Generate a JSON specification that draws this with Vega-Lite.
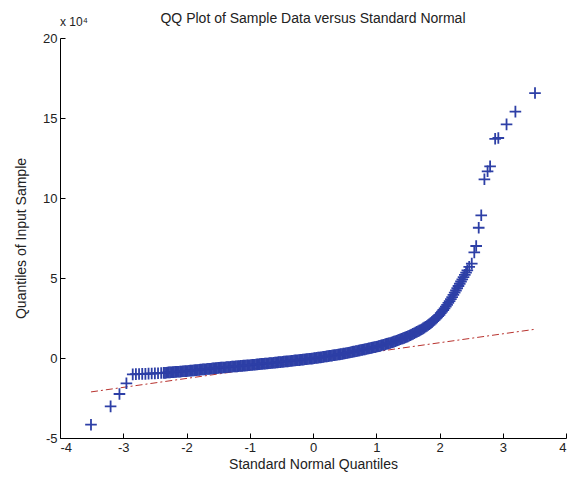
{
  "$schema": "https://vega.github.io/schema/vega-lite/v6.json",
  "width": 506,
  "height": 400,
  "autosize": "none",
  "padding": {"left": 60, "top": 38, "right": 2, "bottom": 43},
  "title": {"text": "QQ Plot of Sample Data versus Standard Normal", "font": "Liberation Sans", "fontSize": 14, "fontWeight": "normal", "color": "#222", "offset": -10, "anchor": "middle"},
  "config": {
    "view": {"stroke": null},
    "axis": {"grid": false, "domainColor": "#000", "tickColor": "#000", "labelFont": "Liberation Sans", "titleFont": "Liberation Sans", "labelFontSize": 13, "titleFontSize": 14, "titleFontWeight": "normal", "labelColor": "#222", "titleColor": "#222", "tickSize": -5, "labelExpr": "'' + datum.value"}
  },
  "datasets": {
    "pts": [
      {"q": -3.51, "v": -4.17}, {"q": -3.20, "v": -3.02}, {"q": -3.06, "v": -2.25}, {"q": -2.95, "v": -1.58},
      {"q": -2.85, "v": -1.02}, {"q": -2.80, "v": -1.01}, {"q": -2.75, "v": -1.00}, {"q": -2.70, "v": -0.99},
      {"q": -2.65, "v": -0.99}, {"q": -2.60, "v": -0.98}, {"q": -2.55, "v": -0.97}, {"q": -2.50, "v": -0.96},
      {"q": -2.45, "v": -0.95}, {"q": -2.40, "v": -0.94}, {"q": -2.36, "v": -0.93},
      {"q": -2.34, "v": -0.93}, {"q": -2.32, "v": -0.92}, {"q": -2.30, "v": -0.91}, {"q": -2.28, "v": -0.90},
      {"q": -2.26, "v": -0.90}, {"q": -2.24, "v": -0.89}, {"q": -2.22, "v": -0.88}, {"q": -2.20, "v": -0.88},
      {"q": -2.18, "v": -0.87}, {"q": -2.16, "v": -0.87}, {"q": -2.14, "v": -0.86}, {"q": -2.12, "v": -0.86},
      {"q": -2.10, "v": -0.85}, {"q": -2.08, "v": -0.84}, {"q": -2.06, "v": -0.83}, {"q": -2.04, "v": -0.83},
      {"q": -2.02, "v": -0.82}, {"q": -2.00, "v": -0.82}, {"q": -1.98, "v": -0.81}, {"q": -1.96, "v": -0.80},
      {"q": -1.94, "v": -0.79}, {"q": -1.92, "v": -0.79}, {"q": -1.90, "v": -0.78}, {"q": -1.88, "v": -0.77},
      {"q": -1.86, "v": -0.76}, {"q": -1.84, "v": -0.76}, {"q": -1.82, "v": -0.75}, {"q": -1.80, "v": -0.74},
      {"q": -1.78, "v": -0.73}, {"q": -1.76, "v": -0.72}, {"q": -1.74, "v": -0.71}, {"q": -1.72, "v": -0.71},
      {"q": -1.70, "v": -0.70}, {"q": -1.68, "v": -0.69}, {"q": -1.66, "v": -0.68}, {"q": -1.64, "v": -0.68},
      {"q": -1.62, "v": -0.67}, {"q": -1.60, "v": -0.66}, {"q": -1.58, "v": -0.65}, {"q": -1.56, "v": -0.64},
      {"q": -1.54, "v": -0.63}, {"q": -1.52, "v": -0.63}, {"q": -1.50, "v": -0.62}, {"q": -1.48, "v": -0.61},
      {"q": -1.46, "v": -0.60}, {"q": -1.44, "v": -0.60}, {"q": -1.42, "v": -0.59}, {"q": -1.40, "v": -0.59},
      {"q": -1.38, "v": -0.58}, {"q": -1.36, "v": -0.57}, {"q": -1.34, "v": -0.56}, {"q": -1.32, "v": -0.56},
      {"q": -1.30, "v": -0.55}, {"q": -1.28, "v": -0.54}, {"q": -1.26, "v": -0.53}, {"q": -1.24, "v": -0.53},
      {"q": -1.22, "v": -0.52}, {"q": -1.20, "v": -0.52}, {"q": -1.18, "v": -0.51}, {"q": -1.16, "v": -0.50},
      {"q": -1.14, "v": -0.49}, {"q": -1.12, "v": -0.49}, {"q": -1.10, "v": -0.48}, {"q": -1.08, "v": -0.48},
      {"q": -1.06, "v": -0.47}, {"q": -1.04, "v": -0.46}, {"q": -1.02, "v": -0.45}, {"q": -1.00, "v": -0.45},
      {"q": -0.98, "v": -0.44}, {"q": -0.96, "v": -0.43}, {"q": -0.94, "v": -0.42}, {"q": -0.92, "v": -0.42},
      {"q": -0.90, "v": -0.41}, {"q": -0.88, "v": -0.40}, {"q": -0.86, "v": -0.39}, {"q": -0.84, "v": -0.38},
      {"q": -0.82, "v": -0.37}, {"q": -0.80, "v": -0.37}, {"q": -0.78, "v": -0.36}, {"q": -0.76, "v": -0.35},
      {"q": -0.74, "v": -0.34}, {"q": -0.72, "v": -0.34}, {"q": -0.70, "v": -0.33}, {"q": -0.68, "v": -0.32},
      {"q": -0.66, "v": -0.31}, {"q": -0.64, "v": -0.31}, {"q": -0.62, "v": -0.30}, {"q": -0.60, "v": -0.29},
      {"q": -0.58, "v": -0.28}, {"q": -0.56, "v": -0.27}, {"q": -0.54, "v": -0.26}, {"q": -0.52, "v": -0.26},
      {"q": -0.50, "v": -0.25}, {"q": -0.48, "v": -0.24}, {"q": -0.46, "v": -0.23}, {"q": -0.44, "v": -0.22},
      {"q": -0.42, "v": -0.21}, {"q": -0.40, "v": -0.21}, {"q": -0.38, "v": -0.20}, {"q": -0.36, "v": -0.19},
      {"q": -0.34, "v": -0.18}, {"q": -0.32, "v": -0.17}, {"q": -0.30, "v": -0.16}, {"q": -0.28, "v": -0.15},
      {"q": -0.26, "v": -0.14}, {"q": -0.24, "v": -0.14}, {"q": -0.22, "v": -0.13}, {"q": -0.20, "v": -0.12},
      {"q": -0.18, "v": -0.11}, {"q": -0.16, "v": -0.10}, {"q": -0.14, "v": -0.09}, {"q": -0.12, "v": -0.08},
      {"q": -0.10, "v": -0.07}, {"q": -0.08, "v": -0.06}, {"q": -0.06, "v": -0.05}, {"q": -0.04, "v": -0.05},
      {"q": -0.02, "v": -0.04}, {"q": 0.00, "v": -0.03}, {"q": 0.02, "v": -0.01}, {"q": 0.04, "v": 0.00},
      {"q": 0.06, "v": 0.01}, {"q": 0.08, "v": 0.02}, {"q": 0.10, "v": 0.03}, {"q": 0.12, "v": 0.04},
      {"q": 0.14, "v": 0.05}, {"q": 0.16, "v": 0.07}, {"q": 0.18, "v": 0.08}, {"q": 0.20, "v": 0.09},
      {"q": 0.22, "v": 0.10}, {"q": 0.24, "v": 0.12}, {"q": 0.26, "v": 0.13}, {"q": 0.28, "v": 0.14},
      {"q": 0.30, "v": 0.15}, {"q": 0.32, "v": 0.17}, {"q": 0.34, "v": 0.18}, {"q": 0.36, "v": 0.19},
      {"q": 0.38, "v": 0.20}, {"q": 0.40, "v": 0.22}, {"q": 0.42, "v": 0.23}, {"q": 0.44, "v": 0.24},
      {"q": 0.46, "v": 0.25}, {"q": 0.48, "v": 0.27}, {"q": 0.50, "v": 0.28}, {"q": 0.52, "v": 0.30},
      {"q": 0.54, "v": 0.31}, {"q": 0.56, "v": 0.33}, {"q": 0.58, "v": 0.34}, {"q": 0.60, "v": 0.36},
      {"q": 0.62, "v": 0.38}, {"q": 0.64, "v": 0.40}, {"q": 0.66, "v": 0.41}, {"q": 0.68, "v": 0.43},
      {"q": 0.70, "v": 0.44}, {"q": 0.72, "v": 0.46}, {"q": 0.74, "v": 0.48}, {"q": 0.76, "v": 0.50},
      {"q": 0.78, "v": 0.51}, {"q": 0.80, "v": 0.53}, {"q": 0.82, "v": 0.54}, {"q": 0.84, "v": 0.56},
      {"q": 0.86, "v": 0.58}, {"q": 0.88, "v": 0.60}, {"q": 0.90, "v": 0.61}, {"q": 0.92, "v": 0.63},
      {"q": 0.94, "v": 0.65}, {"q": 0.96, "v": 0.67}, {"q": 0.98, "v": 0.68}, {"q": 1.00, "v": 0.70},
      {"q": 1.02, "v": 0.72}, {"q": 1.04, "v": 0.74}, {"q": 1.06, "v": 0.76}, {"q": 1.08, "v": 0.79},
      {"q": 1.10, "v": 0.81}, {"q": 1.12, "v": 0.83}, {"q": 1.14, "v": 0.85}, {"q": 1.16, "v": 0.88},
      {"q": 1.18, "v": 0.90}, {"q": 1.20, "v": 0.92}, {"q": 1.22, "v": 0.94}, {"q": 1.24, "v": 0.97},
      {"q": 1.26, "v": 0.99}, {"q": 1.28, "v": 1.02}, {"q": 1.30, "v": 1.05}, {"q": 1.32, "v": 1.08},
      {"q": 1.34, "v": 1.11}, {"q": 1.36, "v": 1.14}, {"q": 1.38, "v": 1.17}, {"q": 1.40, "v": 1.20},
      {"q": 1.42, "v": 1.23}, {"q": 1.44, "v": 1.26}, {"q": 1.46, "v": 1.29}, {"q": 1.48, "v": 1.32},
      {"q": 1.50, "v": 1.35}, {"q": 1.52, "v": 1.39}, {"q": 1.54, "v": 1.43}, {"q": 1.56, "v": 1.47},
      {"q": 1.58, "v": 1.51}, {"q": 1.60, "v": 1.55}, {"q": 1.62, "v": 1.59}, {"q": 1.64, "v": 1.63},
      {"q": 1.66, "v": 1.67}, {"q": 1.68, "v": 1.71}, {"q": 1.70, "v": 1.75}, {"q": 1.72, "v": 1.80},
      {"q": 1.74, "v": 1.85}, {"q": 1.76, "v": 1.90}, {"q": 1.78, "v": 1.95}, {"q": 1.80, "v": 2.00},
      {"q": 1.82, "v": 2.06}, {"q": 1.84, "v": 2.12}, {"q": 1.86, "v": 2.18}, {"q": 1.88, "v": 2.24},
      {"q": 1.90, "v": 2.31}, {"q": 1.92, "v": 2.38}, {"q": 1.94, "v": 2.46}, {"q": 1.96, "v": 2.54},
      {"q": 1.98, "v": 2.62}, {"q": 2.00, "v": 2.70}, {"q": 2.02, "v": 2.80}, {"q": 2.04, "v": 2.90},
      {"q": 2.06, "v": 3.00}, {"q": 2.08, "v": 3.10}, {"q": 2.10, "v": 3.21}, {"q": 2.12, "v": 3.32},
      {"q": 2.14, "v": 3.44}, {"q": 2.16, "v": 3.56}, {"q": 2.18, "v": 3.68}, {"q": 2.20, "v": 3.80},
      {"q": 2.22, "v": 3.94}, {"q": 2.24, "v": 4.08}, {"q": 2.26, "v": 4.22}, {"q": 2.28, "v": 4.36},
      {"q": 2.30, "v": 4.50}, {"q": 2.32, "v": 4.64}, {"q": 2.34, "v": 4.78}, {"q": 2.36, "v": 4.92},
      {"q": 2.38, "v": 5.06}, {"q": 2.40, "v": 5.20}, {"q": 2.42, "v": 5.34}, {"q": 2.44, "v": 5.48},
      {"q": 2.47, "v": 5.70},
      {"q": 2.51, "v": 5.90}, {"q": 2.55, "v": 6.60}, {"q": 2.58, "v": 7.00}, {"q": 2.62, "v": 8.14},
      {"q": 2.66, "v": 8.92}, {"q": 2.71, "v": 11.17}, {"q": 2.76, "v": 11.67}, {"q": 2.80, "v": 11.98},
      {"q": 2.88, "v": 13.70}, {"q": 2.93, "v": 13.75}, {"q": 3.06, "v": 14.60}, {"q": 3.20, "v": 15.40},
      {"q": 3.51, "v": 16.56}
    ],
    "ref": [{"q": -3.51, "v": -2.12}, {"q": 3.50, "v": 1.79}],
    "lab": [{"q": -4, "v": 20, "t": "x 10⁴"}]
  },
  "encoding": {
    "x": {"field": "q", "type": "quantitative", "scale": {"domain": [-4, 4], "nice": false, "zero": false},
      "axis": {"values": [-4, -3, -2, -1, 0, 1, 2, 3, 4], "title": "Standard Normal Quantiles", "labelPadding": 8, "titlePadding": 3}},
    "y": {"field": "v", "type": "quantitative", "scale": {"domain": [-5, 20], "nice": false, "zero": false},
      "axis": {"values": [-5, 0, 5, 10, 15, 20], "title": "Quantiles of Input Sample", "labelPadding": 8, "titlePadding": 14}}
  },
  "layer": [
    {
      "data": {"name": "ref"},
      "mark": {"type": "line", "color": "#b8322e", "strokeWidth": 1, "strokeDash": [7, 3, 2, 3]}
    },
    {
      "data": {"name": "pts"},
      "mark": {"type": "point", "shape": "M-1,0H1M0,-1V1", "filled": false, "stroke": "#2d3fa6", "strokeWidth": 1.8, "size": 135, "opacity": 1}
    },
    {
      "data": {"name": "lab"},
      "mark": {"type": "text", "align": "left", "baseline": "alphabetic", "dx": 0, "dy": -12, "font": "Liberation Sans", "fontSize": 12, "color": "#222"},
      "encoding": {"text": {"field": "t"}}
    }
  ]
}
